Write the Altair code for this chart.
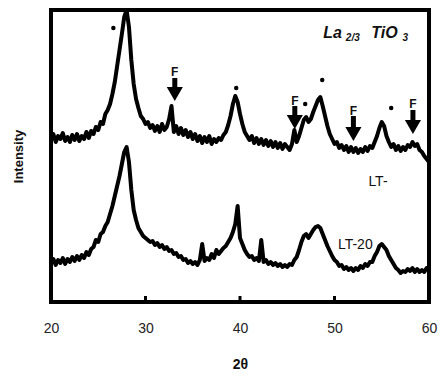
import altair as alt
import pandas as pd

two_theta = [20 + 0.25 * i for i in range(161)]

upper = [162, 168, 160, 166, 163, 169, 161, 165, 160, 167, 162, 168, 161, 166, 163, 170,
         164, 171, 168, 175, 172, 180, 178, 188, 192, 198, 208, 220, 236, 252, 268, 285,
         292, 275, 242, 218, 203, 194, 186, 183, 178, 180, 174, 177, 171, 176, 170, 178,
         172, 175, 183, 196, 170, 176, 168, 174, 167, 172, 165, 170, 163, 168, 161, 166,
         159, 165, 160, 166, 158, 163, 160, 164, 162, 167, 170, 177, 186, 198, 206, 200,
         188, 178, 170, 166, 162, 166, 159, 164, 158, 163, 157, 162, 156, 161, 155, 160,
         154, 159, 153, 158, 155, 152, 158, 172, 160, 166, 174, 182, 185, 180, 183, 190,
         196, 202, 205, 196, 186, 176, 168, 163, 158, 160, 154, 157, 152, 156, 150, 155,
         150, 154, 149, 153, 150, 155, 151, 156, 154, 160, 166, 174, 180, 176, 166, 160,
         155, 158, 152, 156, 151, 155, 152, 157, 155, 160, 156, 158, 152, 150, 146, 143,
         140]

lower = [38, 43, 37, 42, 39, 44, 38, 43, 40, 45, 41, 46, 42, 47, 44, 50,
         47, 53, 55, 62, 60, 68, 70, 76, 80, 88, 96, 106, 116, 126, 138, 150,
         155, 140, 112, 92, 82, 74, 70, 66, 64, 62, 60, 61, 57, 59, 55, 57,
         53, 55, 51, 52, 48, 49, 45, 46, 42, 43, 39, 41, 38, 40, 37, 42,
         58, 41, 44, 42, 48, 44, 52, 48, 51, 54, 56, 60, 64, 70, 78, 96,
         64, 58, 52, 48, 45, 46, 42, 44, 41, 62, 40, 42, 38, 40, 37, 39,
         36, 38, 35, 37, 35, 38, 37, 42, 45, 52, 60, 66, 68, 64, 68, 72,
         75, 76, 74, 68, 62, 56, 51, 46, 42, 40, 36, 37, 33, 35, 32, 34,
         31, 34, 32, 36, 34, 38, 36, 40, 40, 46, 50, 56, 58, 55, 52, 46,
         42, 38, 34, 32, 29, 31, 30, 33, 31, 34, 30, 33, 30, 32, 30, 34,
         32]

star_x = [26.6, 39.6, 46.9, 48.7, 56.0]
star_y = [274, 214, 198, 222, 194]

arrow_x = [33.1, 45.8, 52.0, 58.3]
arrow_label_y = [230, 201, 191, 198]
arrow_top = [224, 196, 186, 192]
arrow_bottom = [214, 186, 175, 182]
arrow_head = [208, 180, 168, 175]

tick_vals = [20, 30, 40, 50, 60]

df = pd.DataFrame({
    "x": two_theta * 2,
    "y": upper + lower,
    "s": ["LT"] * 161 + ["LT-20"] * 161,
})

W, H = 378, 292
xs = alt.Scale(domain=[20, 60], nice=False, zero=False)
ys = alt.Scale(domain=[0, 292], nice=False, zero=False)

lines = alt.Chart(df).mark_line(color="black", strokeWidth=4, strokeJoin="round", clip=True).encode(
    x=alt.X("x:Q", scale=xs,
            axis=alt.Axis(values=tick_vals, title="2θ", grid=False, domain=False, ticks=False,
                          labelFlush=False,
                          labelFont="Liberation Sans", labelFontSize=14, labelPadding=19,
                          labelColor="#222", titleFont="Liberation Sans", titleFontSize=14,
                          titleFontWeight="bold", titlePadding=22, titleColor="#111")),
    y=alt.Y("y:Q", scale=ys,
            axis=alt.Axis(title="Intensity", labels=False, ticks=False, grid=False, domain=False,
                          titleFont="Liberation Sans", titleFontSize=13, titleFontWeight="bold",
                          titlePadding=26, titleColor="#111")),
    detail="s:N",
)

ticks_df = pd.DataFrame({"x": [30, 40, 50]})
ticks = alt.Chart(ticks_df).mark_rule(color="black", strokeWidth=3).encode(
    x=alt.X("x:Q", scale=xs), y=alt.value(H), y2=alt.value(H - 6))

stars_df = pd.DataFrame({"x": star_x, "y": star_y})
stars = alt.Chart(stars_df).mark_point(shape="circle", filled=True, color="black", size=20, opacity=1).encode(
    x=alt.X("x:Q", scale=xs), y=alt.Y("y:Q", scale=ys))

arr_df = pd.DataFrame({"x": arrow_x, "ly": arrow_label_y, "t": arrow_top, "b": arrow_bottom,
                       "h": arrow_head, "lab": ["F"] * 4})
shafts = alt.Chart(arr_df).mark_rule(color="black", strokeWidth=5).encode(
    x=alt.X("x:Q", scale=xs), y=alt.Y("t:Q", scale=ys), y2="b:Q")
heads = alt.Chart(arr_df).mark_point(shape="triangle-down", filled=True, color="black", size=260, opacity=1).encode(
    x=alt.X("x:Q", scale=xs), y=alt.Y("h:Q", scale=ys))
flabels = alt.Chart(arr_df).mark_text(font="Liberation Sans", fontSize=12, fontWeight="bold",
                                      color="#111", baseline="middle").encode(
    x=alt.X("x:Q", scale=xs), y=alt.Y("ly:Q", scale=ys), text="lab:N")

lab_df = pd.DataFrame({"x": [54.6, 52.2], "y": [120, 57], "t": ["LT-", "LT-20"]})
labels = alt.Chart(lab_df).mark_text(font="Liberation Sans", fontSize=14, color="#111",
                                     baseline="middle").encode(
    x=alt.X("x:Q", scale=xs), y=alt.Y("y:Q", scale=ys), text="t:N")

title_df = pd.DataFrame({"x": [48.8, 51.2, 53.9, 57.2], "y": [269, 264, 269, 264],
                         "t": ["La", "2/3", "TiO", "3"], "fs": [16, 10, 16, 10]})
title = alt.Chart(title_df).mark_text(font="Liberation Sans", fontWeight="bold", fontStyle="italic",
                                      color="#111", align="left", baseline="middle").encode(
    x=alt.X("x:Q", scale=xs), y=alt.Y("y:Q", scale=ys), text="t:N",
    size=alt.Size("fs:Q", scale=None, legend=None))

chart = alt.layer(lines, ticks, stars, shafts, heads, flabels, labels, title).properties(
    width=W, height=H,
    autosize=alt.AutoSizeParams(type="none"),
    padding={"left": 43, "top": 2, "right": 9, "bottom": 70},
).configure(background="white", view=alt.ViewConfig(stroke="black", strokeWidth=4))

chart.save("out.html", embed_options={"renderer": "svg", "actions": False})
